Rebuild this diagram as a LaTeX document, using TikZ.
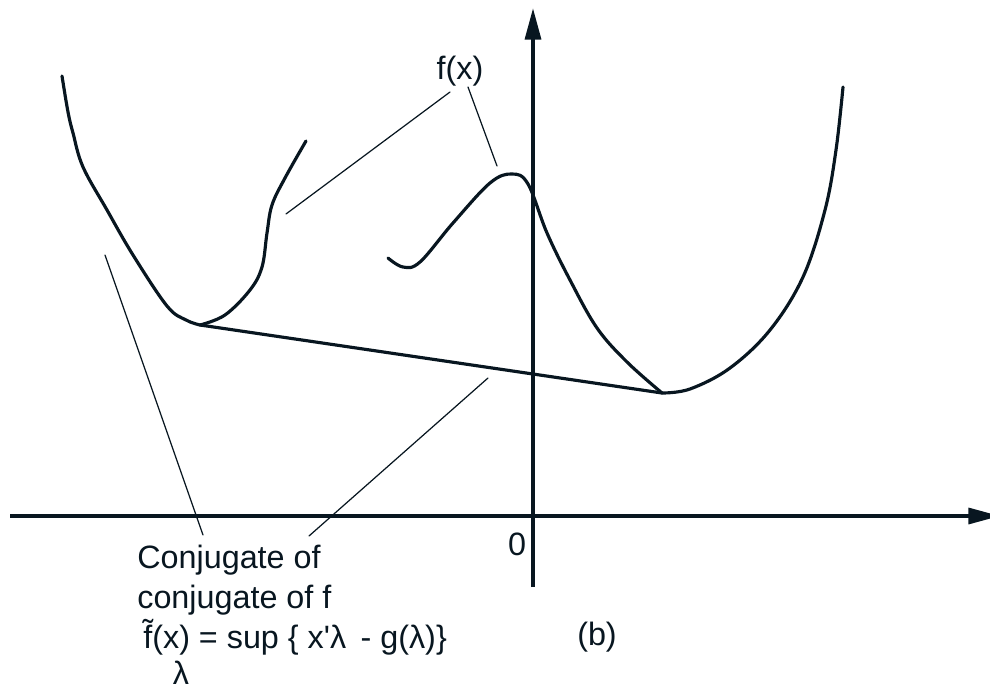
\documentclass[tikz,border=0pt]{standalone}
\usepackage{fontspec}
\setmainfont{Liberation Sans}
\usetikzlibrary{arrows.meta}
\definecolor{ink}{RGB}{8,22,32}

\begin{document}
\begin{tikzpicture}[x=0.02cm, y=-0.02cm, line join=round, line cap=round,
  curve/.style={ink, line width=1.8pt},
  axis/.style={ink, line width=2.2pt, line cap=butt, -{Triangle[length=18pt, width=9pt]}},
  leader/.style={ink, line width=0.7pt},
  lbl/.style={ink, inner sep=0pt, font=\fontsize{18.4}{22.7}\selectfont}]
  \clip (0,0) rectangle (990,689);
  % Axes
  \coordinate (xl) at (10,516);
  \coordinate (xr) at (1000,516);
  \coordinate (yb) at (533,587);
  \coordinate (yt) at (533,8);
  \draw[axis] (xl) -- (xr);
  \draw[axis] (yb) -- (yt);
  % Kinks of the curves
  \coordinate (vl) at (200,325);
  \coordinate (vr) at (662,393);
  % Left piece
  \draw[curve] plot[smooth, tension=0.6] coordinates {(62,76) (68,112) (73,133) (83,167) (107,210)
    (133,255) (167,306) (186,320) (vl)};
  \draw[curve] plot[smooth, tension=0.6] coordinates {(vl) (225,315) (250,290) (262,267)
    (267,233) (272,205) (285,178) (306,141)};
  % Middle piece and right piece
  \draw[curve] plot[smooth, tension=0.6] coordinates {(388,258) (403,267) (420,262) (453,223)
    (490,183) (512,174) (528,184) (547,233) (570,280) (597,328) (627,362) (vr)};
  \draw[curve] plot[smooth, tension=0.6] coordinates {(vr) (690,389) (730,368) (770,330)
    (803,277) (825,210) (836,150) (843,87)};
  % Chord
  \draw[curve] (vl) -- (vr);
  % Labels
  \node[lbl, anchor=base] (fx) at (460,80) {f(x)};
  \node[lbl, anchor=base] (zero) at (517,555) {0};
  \node[lbl, anchor=base] (b) at (597,645) {(b)};
  \node[lbl, anchor=base west, align=left] (conj) at (137,608) {Conjugate of\\conjugate of f};
  \node[lbl, anchor=base west] (ftilde) at (143,648)
    {\~{f}(x) = sup \{ x\textquotesingle λ \,- g(λ)\}};
  \node[lbl, anchor=base] (lam) at (181,684) {λ};
  % Leaders
  \coordinate (fxa) at (450,92);
  \coordinate (fxb) at (468,87);
  \coordinate (onleft) at (286,214);
  \coordinate (onmid) at (497,166);
  \coordinate (conja) at (203,535);
  \coordinate (conjb) at (309,536);
  \coordinate (onl) at (105,255);
  \coordinate (onchord) at (488,378);
  \draw[leader] (fxa) -- (onleft);
  \draw[leader] (fxb) -- (onmid);
  \draw[leader] (conja) -- (onl);
  \draw[leader] (conjb) -- (onchord);
\end{tikzpicture}
\end{document}
